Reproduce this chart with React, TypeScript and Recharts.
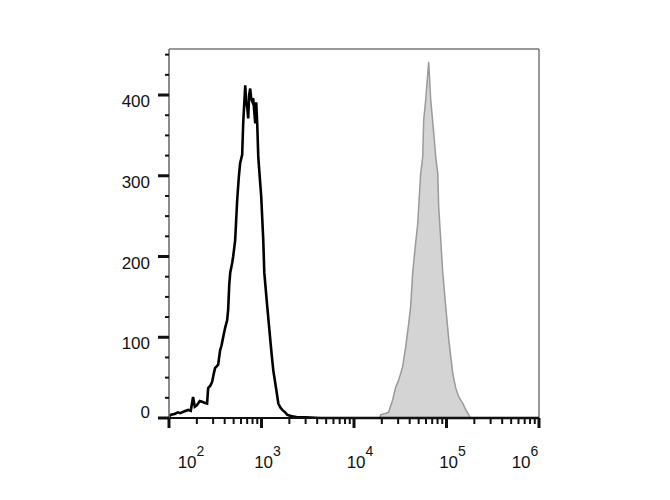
import React from "react";
import { ComposedChart, Area, Line, XAxis, YAxis, ReferenceLine } from "recharts";

// Unstained / control histogram (black outline): channel value and count
const controlX = [
  100, 105, 115, 125, 132, 145, 161, 172, 182, 190, 201, 215, 228, 242, 258, 265, 280, 293, 305,
  315, 328, 340, 357, 370, 385, 405, 425, 436, 448, 459, 482, 494, 519, 546, 570, 588, 618, 634,
  667, 684, 701, 718, 735, 755, 775, 794, 814, 835, 856, 877, 900, 923, 993, 1045, 1072, 1154,
  1244, 1290, 1341, 1445, 1520, 1600, 1680, 1800, 1902, 2150, 2441, 3000, 4335, 1000000,
];
const controlCount = [
  2, 4, 5, 7, 6, 8, 10, 9, 26, 14, 16, 21, 20, 19, 18, 37, 40, 45, 55,
  62, 64, 66, 84, 90, 100, 112, 121, 134, 165, 180, 192, 200, 220, 270, 300, 316, 326, 365,
  412, 390, 385, 371, 400, 408, 395, 392, 396, 380, 365, 391, 363, 323, 274, 220, 180, 138,
  97, 78, 59, 35, 18, 13, 10, 7, 4, 2, 1, 1, 0, 0,
];

// Stained histogram (gray filled)
const stainedX = [
  100, 19000, 19400, 23600, 26100, 28200, 30400, 33500, 36200, 39000, 41000, 43100, 46700, 48800,
  50000, 52600, 55300, 56700, 59600, 64200, 67500, 72800, 76500, 80400, 82400, 86700, 91100,
  98100, 105800, 116900, 126000, 135800, 150000, 161800, 174300, 180000, 1000000,
];
const stainedCount = [
  0, 0, 4, 7, 22, 38, 47, 63, 88, 117, 138, 180, 220, 240,
  261, 303, 323, 369, 394, 441, 394, 353, 323, 303, 261, 220, 180,
  138, 97, 55, 37, 26, 18, 10, 4, 0, 0,
];

const decades = [2, 3, 4, 5, 6];
const labelShift = [22, 6, 6, 6, -14];
const xTicks = [100, 200, 300, 400, 500, 600, 700, 800, 900,
  1000, 2000, 3000, 4000, 5000, 6000, 7000, 8000, 9000,
  10000, 20000, 30000, 40000, 50000, 60000, 70000, 80000, 90000,
  100000, 200000, 300000, 400000, 500000, 600000, 700000, 800000, 900000, 1000000];
const yTicks = [0, 25, 50, 75, 100, 125, 150, 175, 200, 225, 250, 275, 300, 325, 350, 375, 400, 425, 450];
const yMax = 457;

const controlData = controlX.map((x, i) => ({ x, y: controlCount[i] }));
const stainedData = stainedX.map((x, i) => ({ x, y: stainedCount[i] }));

const FONT = "'Liberation Sans', Arial, sans-serif";

const XTick = (props: any) => {
  const { x, y, payload } = props;
  const exp = Math.log10(payload.value);
  const major = Math.abs(exp - Math.round(exp)) < 1e-6;
  const idx = decades.indexOf(Math.round(exp));
  return (
    <g>
      <line x1={x} x2={x} y1={y} y2={y + (major ? 10 : 6)} stroke="#111" strokeWidth={major ? 3 : 2} />
      {major && (
        <text x={x + labelShift[idx]} y={y + 50} textAnchor="middle" fontSize={17} fill="#111" fontFamily={FONT}>
          10
          <tspan dy={-12} fontSize={14}>{Math.round(exp)}</tspan>
        </text>
      )}
    </g>
  );
};

const YTick = (props: any) => {
  const { x, y, payload } = props;
  const major = payload.value % 100 === 0;
  // labels sit a little below their tick, except 0 which sits above the axis
  const dy = payload.value === 0 ? 0 : 12;
  return (
    <g>
      <line x1={x - (major ? 11 : 4)} x2={x} y1={y} y2={y} stroke="#111" strokeWidth={major ? 3 : 2} />
      {major && (
        <text x={x - 19} y={y} dy={dy} textAnchor="end" fontSize={17} fill="#111" fontFamily={FONT}>
          {payload.value}
        </text>
      )}
    </g>
  );
};

export default function App() {
  return (
    <ComposedChart width={654} height={480} margin={{ top: 41, right: 123, left: 101, bottom: 10 }}>
      <XAxis
        dataKey="x"
        type="number"
        scale="log"
        domain={[100, 1000000]}
        ticks={xTicks}
        interval={0}
        allowDataOverflow
        height={60}
        tickSize={0}
        tickMargin={0}
        tick={<XTick />}
        axisLine={{ stroke: "#111", strokeWidth: 2 }}
      />
      <YAxis
        type="number"
        domain={[0, yMax]}
        ticks={yTicks}
        interval={0}
        width={60}
        tickSize={0}
        tickMargin={0}
        tick={<YTick />}
        axisLine={{ stroke: "#666", strokeWidth: 1.5 }}
      />
      <ReferenceLine y={yMax} stroke="#777" strokeWidth={1.5} />
      <ReferenceLine x={1000000} stroke="#777" strokeWidth={1.5} />
      <Area
        data={stainedData}
        dataKey="y"
        type="linear"
        fill="#d4d4d4"
        fillOpacity={1}
        stroke="#9a9a9a"
        strokeWidth={1.5}
        isAnimationActive={false}
      />
      <Line
        data={controlData}
        dataKey="y"
        type="linear"
        stroke="#000"
        strokeWidth={2.6}
        dot={false}
        isAnimationActive={false}
      />
    </ComposedChart>
  );
}
